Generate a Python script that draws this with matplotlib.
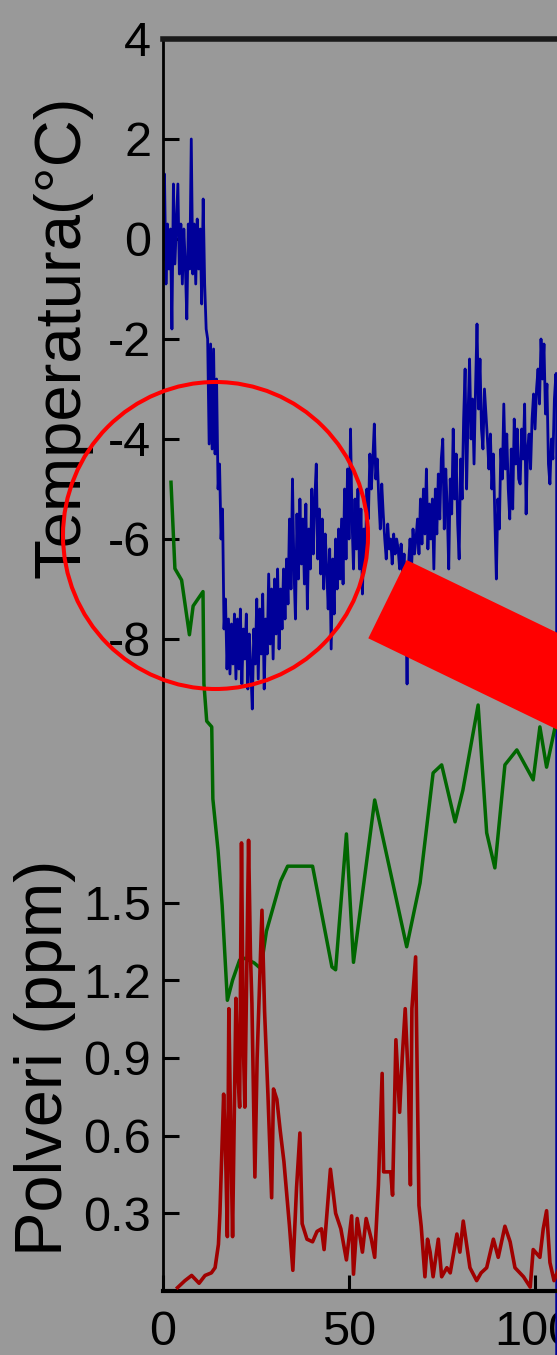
import numpy as np
import matplotlib.pyplot as plt
from matplotlib.patches import Ellipse, Polygon

plt.rcParams['font.family'] = ['Liberation Sans', 'DejaVu Sans']
plt.rcParams['axes.unicode_minus'] = False

# Temperatura (°C), un valore ogni 0.4 kyr (0 ... 106 kyr)
temperatura = [
    -0.4, 1.3, -0.9, 0.3, -0.6, 0.2, -1.8, 1.1, -0.5, 0.3,
    1.1, -0.7, 0.3, -0.9, 0.2, -0.5, -1.6, 0.3, -0.6, 2.0,
    -0.7, 0.3, -0.9, 0.4, -0.6, 0.2, -1.3, 0.8, -0.9, -1.8,
    -2.0, -4.1, -2.1, -4.2, -2.2, -4.3, -2.8, -5.0, -4.5, -6.0,
    -5.4, -7.8, -7.2, -8.6, -7.6, -8.7, -7.7, -8.5, -7.5, -8.8,
    -7.6, -8.6, -7.4, -8.9, -7.8, -8.4, -7.5, -9.0, -7.9, -8.6,
    -9.4, -7.8, -8.5, -7.2, -8.8, -7.4, -8.3, -7.1, -9.0, -7.6,
    -8.3, -6.7, -8.1, -7.0, -8.4, -6.8, -7.9, -6.6, -8.2, -7.0,
    -7.8, -6.6, -7.6, -6.4, -7.3, -5.6, -7.0, -4.8, -6.6, -7.6,
    -5.5, -6.8, -5.2, -6.5, -5.6, -6.9, -5.3, -7.4, -5.8, -6.6,
    -5.0, -6.3, -5.2, -4.5, -6.4, -5.4, -6.7, -5.6, -7.0, -5.9,
    -6.6, -7.4, -6.2, -8.2, -6.4, -7.5, -6.0, -7.0, -5.8, -6.8,
    -5.6, -6.9, -5.0, -6.4, -4.6, -6.0, -3.8, -5.6, -6.6, -5.2,
    -6.2, -5.0, -6.6, -5.4, -7.1, -5.8, -6.4, -5.0, -5.6, -4.3,
    -5.0, -4.4, -3.7, -4.8, -4.4, -5.2, -5.8, -4.9, -5.5, -6.0,
    -6.4, -5.7, -6.2, -6.0, -6.5, -5.9, -6.3, -6.0, -6.2, -6.6,
    -6.1, -6.7, -6.3, -7.0, -8.9, -6.5, -6.0, -6.6, -5.8, -6.3,
    -6.0, -5.6, -6.3, -5.2, -6.1, -5.0, -5.9, -4.6, -6.2, -5.3,
    -6.0, -5.2, -6.6, -5.0, -5.9, -4.7, -5.6, -4.4, -4.0, -5.8,
    -4.6, -5.4, -6.6, -4.8, -5.5, -3.8, -5.2, -4.3, -5.7, -6.4,
    -4.4, -5.2, -3.6, -2.6, -5.0, -3.5, -2.4, -4.0, -3.2, -4.5,
    -3.0, -1.7, -3.4, -2.4, -3.8, -4.2, -3.0, -3.5, -4.0, -4.6,
    -3.9, -5.0, -4.3, -5.6, -6.8, -5.2, -5.8, -4.2, -4.8, -3.3,
    -4.6, -3.9, -5.0, -5.6, -4.2, -5.4, -3.6, -4.5, -3.8, -4.8,
    -4.9, -3.8, -4.4, -3.3, -5.5, -4.2, -3.9, -4.6, -3.6, -3.1,
    -3.8, -3.0, -2.6, -3.3, -2.0, -2.8, -2.1, -3.5, -2.9, -4.5,
    -4.9, -4.0, -4.4, -3.2, -2.7, -3.5,
]
eta_temp = [0.4 * i for i in range(len(temperatura))]

# Polveri (ppm)
eta_polveri = [
    3.9, 5.9, 7.7, 9.7, 11.3, 13.0, 14.0, 14.9, 15.3, 16.3,
    16.8, 17.3, 17.7, 18.2, 18.7, 19.6, 20.1, 20.6, 21.1, 21.6,
    22.0, 23.0, 23.5, 23.9, 24.7, 25.3, 25.9, 26.6, 27.3, 28.2,
    29.2, 29.7, 30.6, 31.5, 32.5, 34.0, 34.9, 35.9, 36.8, 37.4,
    38.7, 40.2, 41.4, 42.6, 43.3, 45.0, 46.4, 47.8, 49.3, 50.7,
    51.2, 52.2, 53.6, 54.6, 56.0, 56.9, 57.9, 58.9, 59.3, 61.2,
    61.7, 62.6, 63.6, 64.3, 65.1, 66.0, 66.5, 66.9, 67.9, 68.8,
    69.4, 70.4, 71.1, 71.8, 72.6, 74.0, 74.9, 76.3, 77.2, 79.0,
    79.8, 80.7, 82.5, 84.3, 85.5, 87.0, 88.8, 90.1, 91.9, 93.3,
    94.6, 96.9, 98.7, 99.5, 101.3, 102.2, 103.1, 104.0, 105.1, 106.2,
]
polveri = [
    0.013, 0.04, 0.06, 0.03, 0.06, 0.07, 0.09, 0.18, 0.30, 0.76,
    0.55, 0.21, 1.09, 0.62, 0.21, 1.13, 0.85, 0.71, 1.73, 0.95,
    0.71, 1.74, 1.30, 1.11, 0.44, 0.90, 1.16, 1.47, 1.08, 0.76,
    0.36, 0.78, 0.74, 0.62, 0.50, 0.25, 0.08, 0.40, 0.61, 0.26,
    0.20, 0.19, 0.23, 0.24, 0.16, 0.47, 0.30, 0.24, 0.12, 0.29,
    0.065, 0.28, 0.15, 0.28, 0.20, 0.13, 0.41, 0.84, 0.46, 0.46,
    0.37, 0.97, 0.69, 0.90, 1.09, 0.79, 0.41, 1.09, 1.29, 0.33,
    0.25, 0.055, 0.20, 0.15, 0.055, 0.20, 0.055, 0.09, 0.07, 0.22,
    0.15, 0.27, 0.09, 0.04, 0.07, 0.09, 0.20, 0.13, 0.25, 0.19,
    0.09, 0.055, 0.015, 0.16, 0.13, 0.24, 0.31, 0.11, 0.04, 0.08,
]

# CO2 (ppmv) - curva verde, senza asse visibile
eta_co2 = [
    2.15, 3.2, 5.0, 7.1, 8.1, 10.75, 11.0, 11.75, 13.1, 13.4,
    14.8, 15.9, 17.3, 18.7, 20.6, 22.0, 24.5, 26.3, 27.8, 31.6,
    33.5, 40.2, 45.4, 46.4, 49.3, 51.2, 56.9, 65.5, 69.1, 72.6,
    74.9, 78.5, 80.6, 84.7, 87.0, 89.2, 91.9, 95.1, 99.5, 101.3,
    103.1, 105.4, 106.5,
]
co2 = [
    280, 265, 263, 253.5, 258.5, 261, 245, 238.5, 237.5, 225,
    216, 206.5, 190, 193.5, 197, 197.3, 196.5, 195.5, 202, 210.7,
    213.3, 213.3, 195.8, 195.3, 218.9, 196.6, 224.8, 199.3, 210.4, 229.5,
    230.9, 221, 226.5, 241.3, 219.1, 213, 230.9, 233.5, 228.3, 237.5,
    230.5, 237.5, 240,
]

temp_ticks = [-8, -6, -4, -2, 0, 2, 4]
polveri_ticks = [0.3, 0.6, 0.9, 1.2, 1.5]
eta_ticks = [0, 50, 100]

W, H = 557, 1355
bg = '#999999'
fig = plt.figure(figsize=(W / 100, H / 100), dpi=100, facecolor=bg)

def px(x, y):
    return (x / W, 1 - y / H)

# asse principale: temperatura
ax = fig.add_axes([163 / W, 1 - 1291 / H, (W - 163) / W, 1252 / H])
ax.set_facecolor(bg)
ax.plot(eta_temp, temperatura, color='#000099', lw=2.0)
ax.set_xlim(0, 105.9)
ax.set_ylim(-21.04, 4)
ax.set_xticks(eta_ticks)
ax.set_yticks(temp_ticks)
ax.set_yticklabels([str(t) for t in temp_ticks])
ax.set_ylabel('Temperatura(°C)', fontsize=47)
ax.yaxis.set_label_coords(-0.18, 0.762)

# CO2 (senza asse)
ax_co2 = ax.twinx()
ax_co2.plot(eta_co2, co2, color='#006600', lw=2.5)
ax_co2.set_ylim(139.5, 357)
ax_co2.set_yticks([])

# polveri
ax_pol = ax.twinx()
ax_pol.plot(eta_polveri, polveri, color='#a00000', lw=2.6)
ax_pol.set_ylim(0, 4.834)
ax_pol.yaxis.tick_left()
ax_pol.yaxis.set_label_position('left')
ax_pol.set_yticks(polveri_ticks)
ax_pol.set_yticklabels([f'{v:.1f}' for v in polveri_ticks])
ax_pol.set_ylabel('Polveri (ppm)', fontsize=48)
ax_pol.yaxis.set_label_coords(-0.22, 0.186)

for a in (ax, ax_co2, ax_pol):
    a.tick_params(direction='in', length=11.5, width=2.2, labelsize=35, pad=8.5, color='black')
    for s in a.spines.values():
        s.set_visible(False)
ax.tick_params(axis='x', pad=14)

ax.spines['left'].set_visible(True)
ax.spines['left'].set_linewidth(2)
ax.spines['bottom'].set_visible(True)
ax.spines['bottom'].set_linewidth(3)
ax.spines['top'].set_visible(True)
ax.spines['top'].set_linewidth(4)
ax.spines['top'].set_color('#1a1a1a')

# linea verticale blu sul bordo destro
ax.axvline(105.6, ymin=-0.06, ymax=0.733, color='#000099', lw=1.8, clip_on=False)

# evidenziazioni rosse
fig.add_artist(Ellipse(px(215.5, 535.5), 305 / W, 307 / H, transform=fig.transFigure,
                       fill=False, ec='#ff0000', lw=2.9))
fig.add_artist(Polygon([px(406.7, 560), px(368.3, 638.3), px(638.3, 768.8), px(676.7, 690.5)],
                       closed=True, transform=fig.transFigure, fc='#ff0000', ec='none'))

fig.savefig('out.png', dpi=100, facecolor=bg)
